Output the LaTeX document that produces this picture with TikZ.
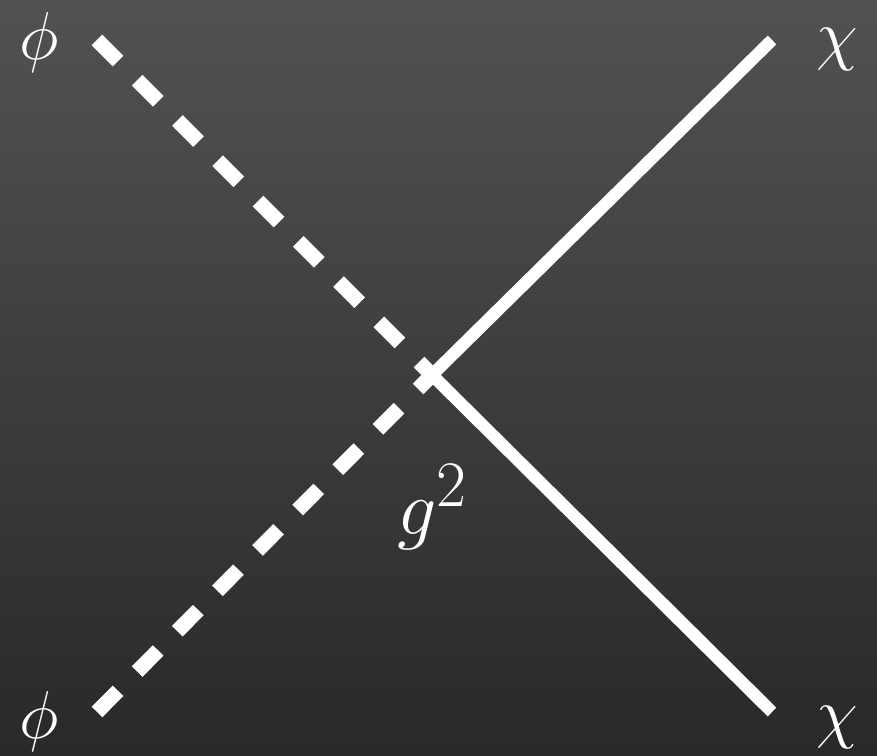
\documentclass[tikz,border=0pt]{standalone}
\usepackage{amsmath}
\tikzset{
  scalar/.style={white, line width=8.5pt, dash pattern=on 17pt off 15.4pt},
  fermion/.style={white, line width=7pt},
  lbl/.style={text=white, inner sep=0pt, font=\Huge, scale=1.55}
}
\begin{document}
\begin{tikzpicture}[x=0.02cm, y=0.02cm]
		\shade[top color=black!68, bottom color=black!84] (0,0) rectangle (877,756);
		\coordinate (v) at (432,381);
		\coordinate (p1) at (97,716);
		\coordinate (p2) at (97,44);
		\coordinate (c1) at (772,716);
		\coordinate (c2) at (772,44);
		\node[lbl] (phi1) at (39,713) {$\phi$};
		\node[lbl] (phi2) at (39,34) {$\phi$};
		\node[lbl] (chi1) at (837,706) {$\chi$};
		\node[lbl] (chi2) at (837,28) {$\chi$};
		\node[lbl, scale=1.15] (g) at (433,249) {$g^2$};
		\draw[scalar] (p1) -- (v);
		\draw[scalar] (p2) -- (v);
		\draw[fermion] (v) -- (c1);
		\draw[fermion] (v) -- (c2);
	\end{tikzpicture}
\end{document}
